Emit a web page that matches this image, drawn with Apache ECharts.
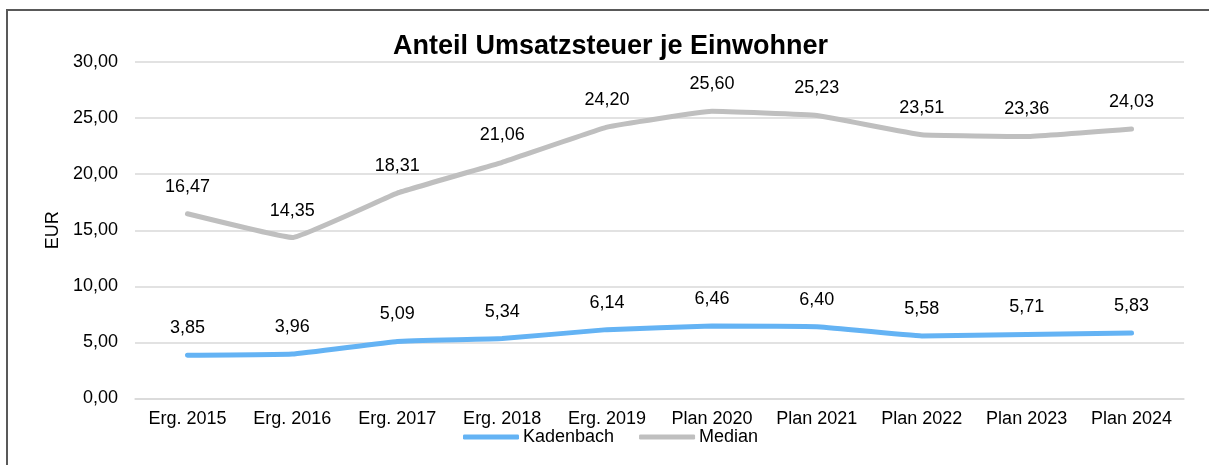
<!DOCTYPE html>
<html>
<head>
<meta charset="utf-8">
<script src="https://cdn.jsdelivr.net/npm/echarts@6/dist/echarts.min.js"></script>
<style>
  html, body { margin: 0; padding: 0; background: #fff; }
  #chart { width: 1209px; height: 465px; }
</style>
</head>
<body>
<div id="chart"></div>
<script>
  var categories = ['Erg. 2015', 'Erg. 2016', 'Erg. 2017', 'Erg. 2018', 'Erg. 2019',
                    'Plan 2020', 'Plan 2021', 'Plan 2022', 'Plan 2023', 'Plan 2024'];
  var kadenbach = [3.85, 3.96, 5.09, 5.34, 6.14, 6.46, 6.40, 5.58, 5.71, 5.83];
  var median = [16.47, 14.35, 18.31, 21.06, 24.20, 25.60, 25.23, 23.51, 23.36, 24.03];

  function fmt(v) {
    return Number(v).toFixed(2).replace('.', ',');
  }

  var font = 'Liberation Sans, Arial, sans-serif';

  var chart = echarts.init(document.getElementById('chart'));

  chart.setOption({
    animation: false,
    textStyle: { fontFamily: font },
    graphic: [{
      type: 'rect',
      shape: { x: 7, y: 10, width: 1215, height: 480 },
      style: { fill: 'none', stroke: '#595959', lineWidth: 2 },
      silent: true
    }],
    title: {
      text: 'Anteil Umsatzsteuer je Einwohner',
      left: 393,
      top: 33,
      padding: 0,
      textStyle: { fontSize: 27, fontWeight: 'bold', color: '#000', fontFamily: font }
    },
    legend: {
      data: ['Kadenbach', 'Median'],
      left: 463,
      top: 428,
      padding: 0,
      icon: 'roundRect',
      itemWidth: 56,
      itemHeight: 5,
      itemGap: 25,
      textStyle: { fontSize: 18, color: '#000', padding: [0, 0, 0, -1] }
    },
    grid: { left: 135, right: 25, top: 62, bottom: 66.5 },
    xAxis: {
      type: 'category',
      data: categories,
      boundaryGap: true,
      axisLine: { show: true, lineStyle: { color: '#d9d9d9', width: 1.5 } },
      axisTick: { show: false },
      axisLabel: { fontSize: 18, color: '#000', margin: 12, interval: 0 }
    },
    yAxis: {
      type: 'value',
      min: 0,
      max: 30,
      interval: 5,
      name: 'EUR',
      nameLocation: 'middle',
      nameGap: 67,
      nameTextStyle: { fontSize: 18, color: '#000' },
      axisLine: { show: false },
      axisTick: { show: false },
      splitLine: { lineStyle: { color: '#d9d9d9', width: 1.5 } },
      axisLabel: { fontSize: 18, color: '#000', margin: 17, formatter: fmt }
    },
    series: [{
      name: 'Kadenbach',
      type: 'line',
      data: kadenbach,
      smooth: 0.08,
      symbol: 'circle',
      symbolSize: 0,
      showSymbol: true,
      lineStyle: { color: '#64B3F4', width: 5, cap: 'round' },
      itemStyle: { color: '#64B3F4' },
      label: {
        show: true, position: 'top', distance: 18,
        fontSize: 18, color: '#000',
        formatter: function (p) { return fmt(p.value); }
      }
    }, {
      name: 'Median',
      type: 'line',
      data: median,
      smooth: 0.08,
      symbol: 'circle',
      symbolSize: 0,
      showSymbol: true,
      lineStyle: { color: '#BFBFBF', width: 5, cap: 'round' },
      itemStyle: { color: '#BFBFBF' },
      label: {
        show: true, position: 'top', distance: 18,
        fontSize: 18, color: '#000',
        formatter: function (p) { return fmt(p.value); }
      }
    }]
  });
</script>
</body>
</html>
